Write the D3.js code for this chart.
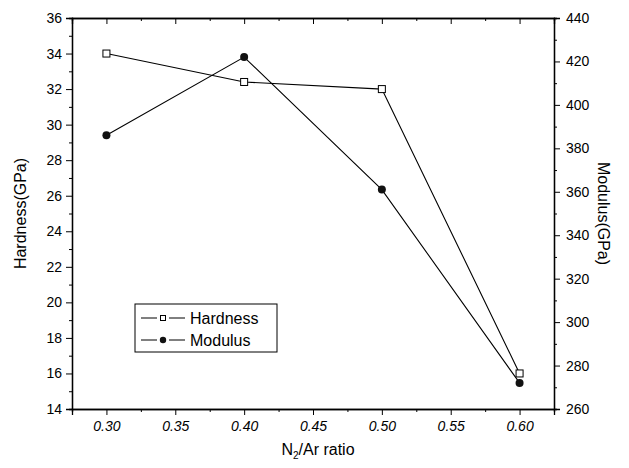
<!DOCTYPE html>
<meta charset="utf-8">
<style>
body { margin: 0; background: #fff; }
svg { font-family: "Liberation Sans", Arial, sans-serif; }
.axis path, .axis line { stroke: #000; }
.axis text { font-size: 14px; fill: #000; }
</style>
<svg width="629" height="468"></svg>
<script src="https://cdn.jsdelivr.net/npm/d3@7"></script>
<script>

var ratio = [0.30, 0.40, 0.50, 0.60];
var hardness = [34.0, 32.4, 32.0, 16.0];
var modulus = [386, 422, 361, 272];
var xTicks = [0.30, 0.35, 0.40, 0.45, 0.50, 0.55, 0.60];

var svg = d3.select("svg"),
    pl = 72, pr = 554, pt = 18, pb = 409;

var x = d3.scaleLinear().domain([0.275, 0.625]).range([pl, pr]);
var yL = d3.scaleLinear().domain([14, 36]).range([pb, pt]);
var yR = d3.scaleLinear().domain([260, 440]).range([pb, pt]);

// minor ticks first, then major with labels
function minor(axis, vals) {
  return axis.tickValues(vals).tickSize(3).tickFormat("");
}

var xMinor = [0.325, 0.375, 0.425, 0.475, 0.525, 0.575];
svg.append("g").attr("class", "axis").attr("transform", "translate(0," + pb + ")")
    .call(minor(d3.axisBottom(x), xMinor));
svg.append("g").attr("class", "axis").attr("transform", "translate(0," + pb + ")")
    .call(d3.axisBottom(x).tickValues(xTicks).tickSize(6).tickPadding(6).tickFormat(d3.format(".2f")))
    .selectAll("text").style("font-style", "italic");

svg.append("g").attr("class", "axis").attr("transform", "translate(0," + pt + ")")
    .call(minor(d3.axisBottom(x), xMinor));
svg.append("g").attr("class", "axis").attr("transform", "translate(0," + pt + ")")
    .call(d3.axisBottom(x).tickValues(xTicks).tickSize(6).tickFormat(""));

svg.append("g").attr("class", "axis").attr("transform", "translate(" + pl + ",0)")
    .call(minor(d3.axisLeft(yL), d3.range(15, 36, 2)));
svg.append("g").attr("class", "axis").attr("transform", "translate(" + pl + ",0)")
    .call(d3.axisLeft(yL).tickValues(d3.range(14, 37, 2)).tickSize(6).tickPadding(4));

svg.append("g").attr("class", "axis").attr("transform", "translate(" + pr + ",0)")
    .call(minor(d3.axisRight(yR), d3.range(270, 440, 20)));
svg.append("g").attr("class", "axis").attr("transform", "translate(" + pr + ",0)")
    .call(d3.axisRight(yR).tickValues(d3.range(260, 441, 20)).tickSize(6).tickPadding(6));

svg.selectAll(".axis .domain").attr("stroke-width", 1.3);

// series
var hLine = d3.line().x(function(d, i) { return x(ratio[i]); }).y(function(d) { return yL(d); });
var mLine = d3.line().x(function(d, i) { return x(ratio[i]); }).y(function(d) { return yR(d); });

svg.append("path").datum(hardness).attr("d", hLine)
    .attr("fill", "none").attr("stroke", "#000").attr("stroke-width", 1.1);
svg.append("path").datum(modulus).attr("d", mLine)
    .attr("fill", "none").attr("stroke", "#000").attr("stroke-width", 1.1);

svg.selectAll(".hpt").data(hardness).enter().append("rect")
    .attr("x", function(d, i) { return x(ratio[i]) - 3.5; })
    .attr("y", function(d) { return yL(d) - 3.5; })
    .attr("width", 7).attr("height", 7)
    .attr("fill", "#fff").attr("stroke", "#000").attr("stroke-width", 1);

svg.selectAll(".mpt").data(modulus).enter().append("circle")
    .attr("cx", function(d, i) { return x(ratio[i]); })
    .attr("cy", function(d) { return yR(d); })
    .attr("r", 4).attr("fill", "#111");

// legend
var lg = svg.append("g");
lg.append("rect").attr("x", 135).attr("y", 304).attr("width", 142).attr("height", 48)
    .attr("fill", "#fff").attr("stroke", "#000").attr("stroke-width", 1);
[["Hardness", 318], ["Modulus", 340]].forEach(function(r, i) {
  lg.append("line").attr("x1", 141).attr("x2", 157).attr("y1", r[1]).attr("y2", r[1])
      .attr("stroke", "#000");
  lg.append("line").attr("x1", 169).attr("x2", 185).attr("y1", r[1]).attr("y2", r[1])
      .attr("stroke", "#000");
  if (i == 0) {
    lg.append("rect").attr("x", 160.5).attr("y", r[1] - 2.5).attr("width", 5).attr("height", 5)
        .attr("fill", "#fff").attr("stroke", "#000");
  } else {
    lg.append("circle").attr("cx", 163).attr("cy", r[1]).attr("r", 3.2).attr("fill", "#111");
  }
  lg.append("text").attr("x", 190).attr("y", r[1] + 5.5).attr("font-size", 16).text(r[0]);
});

// axis titles
svg.append("text").attr("transform", "translate(26," + (pt + pb) / 2 + ") rotate(-90)")
    .attr("text-anchor", "middle").attr("font-size", 16).text("Hardness(GPa)");
svg.append("text").attr("transform", "translate(598," + (pt + pb) / 2 + ") rotate(90)")
    .attr("text-anchor", "middle").attr("font-size", 16).text("Modulus(GPa)");

var xt = svg.append("text").attr("x", (pl + pr) / 2 + 5).attr("y", 455)
    .attr("text-anchor", "middle").attr("font-size", 16);
xt.append("tspan").text("N");
xt.append("tspan").attr("font-size", 10).attr("dy", 4).text("2");
xt.append("tspan").attr("dy", -4).text("/Ar ratio");

</script>
